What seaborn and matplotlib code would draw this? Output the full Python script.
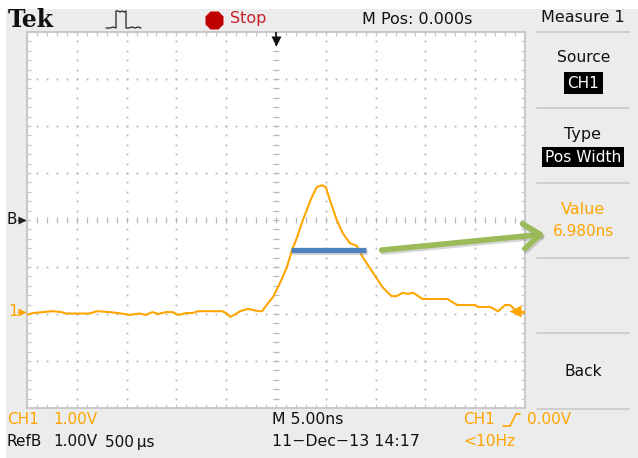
import numpy as np
import pandas as pd
import matplotlib
matplotlib.use("Agg")
import matplotlib.pyplot as plt
import matplotlib.patheffects as pe
import seaborn as sns

# Trace values: time in ns, level in divisions (1 V/div)
time_ns = [-24.9,-24.4,-23.4,-22.5,-21.5,-21.1,-18.7,-18.0,-16.7,-15.5,-14.7,-13.7,-13.1,-12.4,-11.8,-11.1,
           -10.4,-9.8,-9.0,-8.4,-7.8,-5.4,-5.0,-4.6,-4.2,-3.6,-2.8,-1.8,-1.4,-0.8,-0.3,0.4,1.1,1.6,2.1,2.7,
           3.6,4.1,4.6,5.0,5.4,6.1,6.7,7.4,8.1,8.7,9.7,10.7,11.6,12.1,12.7,13.2,13.8,14.7,17.2,18.2,20.0,
           20.3,21.5,22.3,23.0,23.5,24.0,24.9]
level_v = [-0.01,0.02,0.04,0.06,0.04,0.01,0.01,0.06,0.04,0.01,-0.02,0.01,-0.02,0.04,0.0,0.04,
           0.04,-0.02,0.02,0.02,0.06,0.06,0.02,-0.06,-0.02,0.06,0.11,0.06,0.06,0.23,0.36,0.66,1.0,1.36,1.62,2.0,
           2.49,2.70,2.74,2.70,2.43,2.0,1.72,1.51,1.45,1.21,0.89,0.57,0.38,0.38,0.45,0.43,0.45,0.32,0.32,0.19,0.19,
           0.15,0.15,0.06,0.19,0.19,0.09,0.02]
width_t = [1.5, 9.0]
width_v = [1.36, 1.36]
arrow_start = (10.6, 1.36)
arrow_tip = (27.0, 1.70)

ORANGE = "#FFA500"
GRID = "#b9b9b9"
PANEL = "#ECECEC"
FONT = "DejaVu Sans"

sns.set_theme(style="white")
W, H = 638, 458
fig = plt.figure(figsize=(W/100, H/100), dpi=100, facecolor="white")

# chrome layer, in pixel coordinates
bg = fig.add_axes([0, 0, 1, 1], zorder=0)
bg.set_xlim(0, W); bg.set_ylim(H, 0); bg.axis("off")
bg.add_patch(plt.Rectangle((6, 9), W-6, H-9, color=PANEL, lw=0))

def T(x, y, s, c="#111111", fs=11, ha="left", **k):
    bg.text(x, y, s, color=c, fontsize=fs, ha=ha, va="center", family=FONT, **k)

bg.text(8, 20, "Tek", fontsize=17, family="DejaVu Serif", weight="bold", va="center", color="#111111")
bg.plot([106,110,113,116,116,118,120,122,124,126,126,129,132,135,138,141],
        [28,28,27,28,11,11,12,11,12,11,28,28,27,28,27,28], color="#222222", lw=0.9)
bg.plot([214], [19.5], marker="8", ms=13.5, color="#C00000", mec="none")
T(230, 19, "Stop", "#C8202A", 11.5)
T(362, 19, "M Pos: 0.000s", fs=11.5)
T(583, 18, "Measure 1", fs=11.5, ha="center")
for yy in [32, 108, 183, 258, 333, 409]:
    bg.plot([537, 629], [yy, yy], color="#c8c8c8", lw=1.2)
T(584, 58, "Source", fs=11.2, ha="center")
T(583.5, 83, "CH1", "white", 11, ha="center", bbox=dict(fc="black", ec="none", pad=2.5))
T(583, 134, "Type", fs=11.5, ha="center")
T(583, 157, "Pos Width", "white", 11.2, ha="center", bbox=dict(fc="black", ec="none", pad=2))
T(583, 209, "Value", ORANGE, 11.5, ha="center")
T(583, 232, "6.980ns", ORANGE, 11, ha="center")
T(583, 371, "Back", fs=11.2, ha="center")
T(7, 420, "CH1", ORANGE, 11)
T(53, 420, "1.00V", ORANGE, 11)
T(7, 442, "RefB", fs=11)
T(53, 442, "1.00V", fs=11)
T(105, 442, "500\u2009\u00b5s", fs=11)
T(272, 420, "M 5.00ns", fs=11.3)
T(272, 442, "11\u2212Dec\u221213 14:17", fs=11.3)
T(463, 420, "CH1", ORANGE, 11)
T(527, 420, "0.00V", ORANGE, 11)
T(463, 442, "<10Hz", ORANGE, 11.2)
bg.plot([503, 510, 516, 520], [426, 426, 414, 414], color=ORANGE, lw=1.2)
T(7, 220, "B", fs=11)
T(8, 312, "1", ORANGE, 11.5)
bg.plot([18, 26], [220, 220], color="#222222", lw=1)
bg.plot([22], [220], marker=">", ms=6, color="#222222", mec="none")
bg.plot([18, 26], [312, 312], color=ORANGE, lw=1)
bg.plot([22], [312], marker=">", ms=6, color=ORANGE, mec="none")

# scope screen
x0, x1, y0, y1 = 27, 525, 32, 408
ax = fig.add_axes([x0/W, 1-y1/H, (x1-x0)/W, (y1-y0)/H], zorder=1, facecolor="white")
ax.set_xlim(-25, 25); ax.set_ylim(-2, 6)
for s in ax.spines.values():
    s.set_color("#c8c8c8"); s.set_linewidth(1.4)
ax.set_xticks(np.arange(-25, 25.1, 1)); ax.set_yticks(np.arange(-2, 6.01, 0.2))
ax.tick_params(length=3, width=0.9, color="#c8c8c8", direction="in", top=True, right=True,
               bottom=True, left=True, labelbottom=False, labelleft=False)

xs = np.arange(-25, 25.1, 1); ys = np.arange(-2, 6.01, 0.2)
for yy in np.arange(-1, 6):
    if yy != 2:
        ax.plot(xs, np.full_like(xs, yy), ls="none", marker="s", ms=1.3, color=GRID, mew=0)
for xx in np.arange(-20, 25, 5):
    if xx != 0:
        ax.plot(np.full_like(ys, xx), ys, ls="none", marker="s", ms=1.3, color=GRID, mew=0)
ax.plot(xs, np.full_like(xs, 2.0), ls="none", marker="|", ms=4.5, mew=0.9, color=GRID)
ax.plot(np.zeros_like(ys), ys, ls="none", marker="_", ms=5, mew=0.9, color=GRID)

trace = pd.DataFrame({"t": time_ns, "v": level_v})
sns.lineplot(data=trace, x="t", y="v", ax=ax, color=ORANGE, lw=1.5, sort=False, errorbar=None,
             estimator=None, zorder=3)
ax.set_xlabel(""); ax.set_ylabel("")

# trigger markers
ax.plot([0, 0], [6, 5.72], color="#111111", lw=1.2, zorder=4)
ax.plot([0], [5.8], marker="v", ms=7.5, color="#111111", mec="none", zorder=4)
ax.plot([24.0, 25], [0.06, 0.06], color=ORANGE, lw=1, zorder=4)
ax.plot([24.0], [0.06], marker="<", ms=8, color=ORANGE, mec="none", zorder=4)

# annotation bar and arrow
shadow = [pe.SimpleLineShadow(offset=(1, -1.5), shadow_color="#777777", alpha=0.3), pe.Normal()]
ax.plot(width_t, width_v, color="#4F81BD", lw=3.8, solid_capstyle="butt", zorder=5, path_effects=shadow)
ax.annotate("", xy=arrow_tip, xytext=arrow_start, annotation_clip=False, zorder=6,
            arrowprops=dict(arrowstyle="->,head_length=1.0,head_width=0.75", color="#9BBB59", lw=4,
                            shrinkA=0, shrinkB=0, path_effects=shadow))

fig.savefig("out.png", dpi=100, facecolor="white")
